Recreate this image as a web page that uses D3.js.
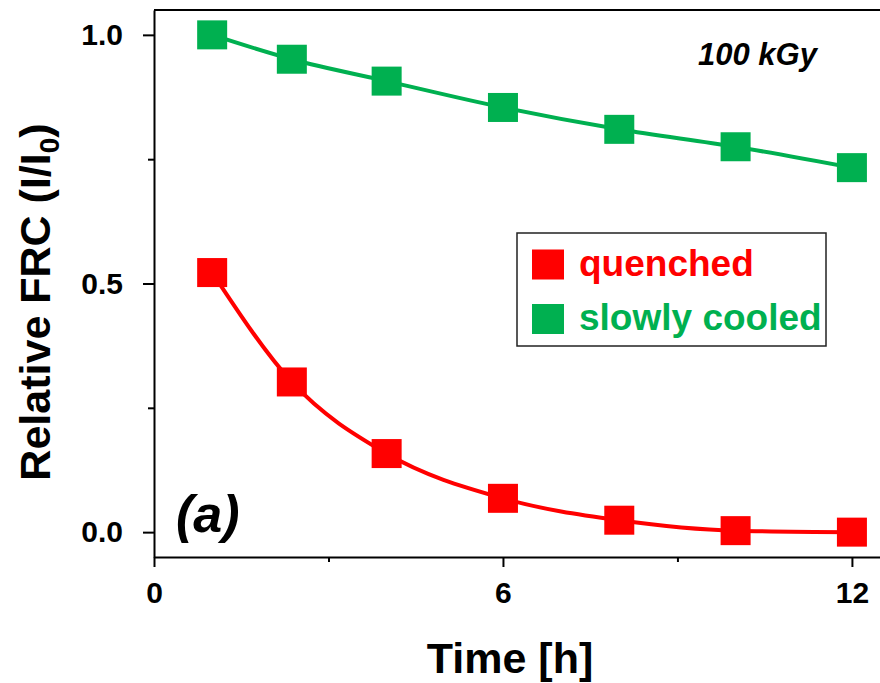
<!DOCTYPE html>
<html>
<head>
<meta charset="utf-8">
<script src="https://cdn.jsdelivr.net/npm/d3@7"></script>
<style>
  html, body { margin: 0; padding: 0; background: #fff; }
  svg { display: block; font-family: "Liberation Sans", Arial, Helvetica, sans-serif; }
</style>
</head>
<body>
<svg id="chart" width="880" height="683"></svg>
<script>
// Annealing time (h) and relative FRC intensity for the two samples
const timeH = [1, 2.37, 4, 6, 8, 10, 12];
const quenched = [0.522, 0.302, 0.158, 0.068, 0.024, 0.003, 0.0];
const slowlyCooled = [1.0, 0.951, 0.907, 0.854, 0.810, 0.775, 0.733];

const seriesNames = ["quenched", "slowly cooled"];
const seriesColors = ["#ff0000", "#00b050"];

const xMajorTicks = [0, 6, 12];
const xMinorTicks = [3, 9];
const yMajorTicks = [0.0, 0.5, 1.0];
const yMinorTicks = [0.25, 0.75];

const svg = d3.select("#chart");
const plotLeft = 154, plotRight = 881, plotTop = 10, plotBottom = 557;

const x = d3.scaleLinear().domain([0, 12.5]).range([plotLeft, plotRight]);
const y = d3.scaleLinear().domain([-0.05, 1.05]).range([plotBottom, plotTop]);

// frame (top and right edges)
svg.append("path")
  .attr("d", `M${plotLeft},${plotTop}H${plotRight}V${plotBottom}`)
  .attr("fill", "none").attr("stroke", "#000").attr("stroke-width", 2);

// y axis
svg.append("g").attr("transform", `translate(${plotLeft},0)`)
  .call(d3.axisLeft(y).tickValues(yMajorTicks).tickFormat(d3.format(".1f"))
    .tickSize(11).tickPadding(20).tickSizeOuter(0));
svg.append("g").attr("transform", `translate(${plotLeft},0)`)
  .call(d3.axisLeft(y).tickValues(yMinorTicks).tickFormat("").tickSize(6).tickSizeOuter(0))
  .select(".domain").remove();

// x axis
svg.append("g").attr("transform", `translate(0,${plotBottom})`)
  .call(d3.axisBottom(x).tickValues(xMajorTicks).tickFormat(d3.format("d"))
    .tickSize(10).tickPadding(15).tickSizeOuter(0));
svg.append("g").attr("transform", `translate(0,${plotBottom})`)
  .call(d3.axisBottom(x).tickValues(xMinorTicks).tickFormat("").tickSize(5).tickSizeOuter(0))
  .select(".domain").remove();

svg.selectAll(".domain").attr("stroke", "#000").attr("stroke-width", 2);
svg.selectAll(".tick line").attr("stroke", "#000").attr("stroke-width", 2);
svg.selectAll(".tick text")
  .attr("fill", "#000").attr("font-size", 30).attr("font-weight", "bold")
  .attr("font-family", "'Liberation Sans', Arial, sans-serif");

// series: smooth curve plus square markers
const series = [quenched, slowlyCooled];
const line = d3.line()
  .x((d, i) => x(timeH[i]))
  .y(d => y(d))
  .curve(d3.curveMonotoneX);

series.forEach((vals, s) => {
  svg.append("path")
    .datum(vals)
    .attr("d", line)
    .attr("fill", "none")
    .attr("stroke", seriesColors[s])
    .attr("stroke-width", 4);
});

const mw = 30, mh = 29;
series.forEach((vals, s) => {
  svg.append("g").selectAll("rect")
    .data(vals)
    .join("rect")
    .attr("x", (d, i) => x(timeH[i]) - mw / 2)
    .attr("y", d => y(d) - mh / 2)
    .attr("width", mw)
    .attr("height", mh)
    .attr("fill", seriesColors[s]);
});

// legend
const legend = svg.append("g");
legend.append("rect")
  .attr("x", 517).attr("y", 233).attr("width", 309).attr("height", 113)
  .attr("fill", "#fff").attr("stroke", "#222").attr("stroke-width", 1.5);
seriesNames.forEach((name, s) => {
  const cy = 264.5 + s * 54.5;
  legend.append("rect")
    .attr("x", 532).attr("y", cy - 15).attr("width", 32).attr("height", 30)
    .attr("fill", seriesColors[s]);
  legend.append("text")
    .attr("x", 579).attr("y", cy + 11)
    .attr("font-size", 37).attr("font-weight", "bold")
    .attr("fill", seriesColors[s])
    .text(name);
});

// annotations
svg.append("text")
  .attr("x", 698).attr("y", 65)
  .attr("font-size", 31).attr("font-weight", "bold").attr("font-style", "italic")
  .text("100 kGy");

svg.append("text")
  .attr("x", 176).attr("y", 532)
  .attr("font-size", 52).attr("font-weight", "bold").attr("font-style", "italic")
  .text("(a)");

// axis titles
svg.append("text")
  .attr("x", 510).attr("y", 673)
  .attr("text-anchor", "middle")
  .attr("font-size", 43).attr("font-weight", "bold")
  .text("Time [h]");

const yTitle = svg.append("text")
  .attr("transform", "translate(50,302) rotate(-90)")
  .attr("text-anchor", "middle")
  .attr("font-size", 43).attr("font-weight", "bold");
yTitle.append("tspan").text("Relative FRC (I/I");
yTitle.append("tspan").attr("font-size", 28).attr("dy", 9).text("0");
yTitle.append("tspan").attr("dy", -9).text(")");
</script>
</body>
</html>
